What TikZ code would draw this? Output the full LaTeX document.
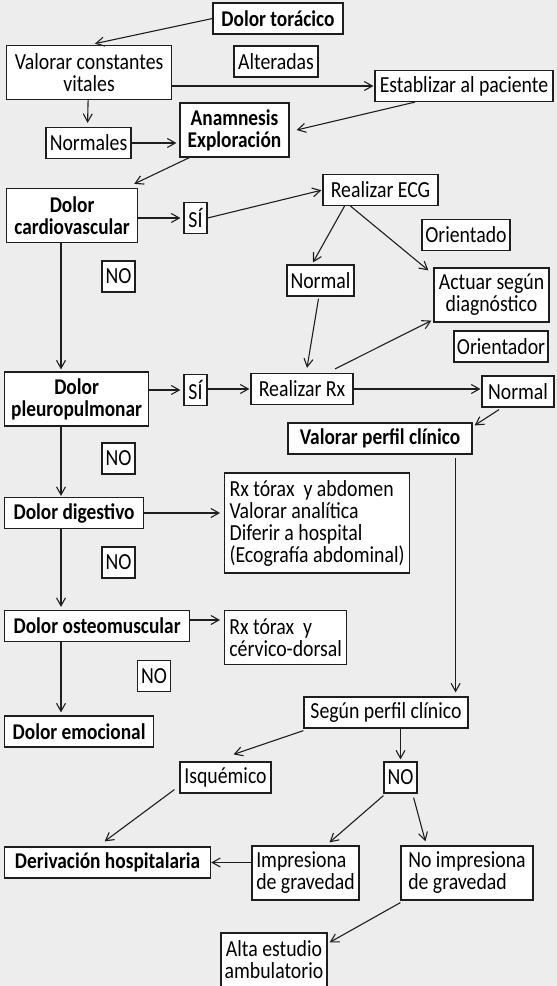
\documentclass[tikz,border=0pt]{standalone}
\usepackage{fontspec}
\setmainfont{Carlito}[FakeStretch=0.86]
\usetikzlibrary{arrows.meta}
\definecolor{fondo}{HTML}{EDEDED}
\definecolor{trazo}{HTML}{1E1E1E}

\tikzset{
  caja/.style={draw=trazo, line width=1.2pt, fill=white, inner xsep=3pt, inner ysep=1pt, minimum height=31pt, align=center},
  doble/.style={caja, minimum height=54pt},
  fuerte/.style={font=\fontsize{22.5}{22}\selectfont\bfseries},
  flecha/.style={draw=trazo, line width=1.1pt, -{Straight Barb[length=8pt,width=9pt]}},
  linea/.style={draw=trazo, line width=1.1pt}
}

\begin{document}
\begin{tikzpicture}[x=1pt, y=-1pt, font=\fontsize{23}{22}\selectfont]

    % Background and page size
    \fill[fondo] (0,0) rectangle (557,986);
    \useasboundingbox (0,0) rectangle (557,986);

    % Column of the left chain
    \coordinate (eje) at (61,0);

    % Top part
    \node[caja, fuerte, minimum width=130pt] (torax) at (278,18.5) {Dolor torácico};
    \node[doble, anchor=west, minimum width=165pt] (valorar) at (6,72.5) {Valorar constantes\\vitales};
    \node[caja, minimum width=84pt] (alteradas) at (276,61.5) {Alteradas};
    \node[caja, minimum width=178pt] (estab) at (464,86) {Establizar al paciente};
    \node[caja, minimum width=85pt] (normales) at (88.5,143) {Normales};
    \node[doble, fuerte, minimum width=109pt] (anam) at (234.5,130) {Anamnesis\\Exploración};

    % Cardiovascular branch
    \node[doble, fuerte, anchor=west, minimum width=131pt] (cardio) at (6,215.5) {Dolor\\cardiovascular};
    \node[caja, inner xsep=2pt, minimum width=23pt] (si1) at (195.5,218) {SÍ};
    \node[caja, inner xsep=2pt, minimum width=33pt] (no1) at (118.5,276.5) {NO};
    \node[caja, minimum width=115pt] (ecg) at (380.5,190) {Realizar ECG};
    \node[caja, minimum width=88pt] (orientado) at (466,235) {Orientado};
    \node[caja, minimum width=67pt] (normal1) at (320.5,280.5) {Normal};
    \node[doble, minimum width=115pt] (actuar) at (491.5,295) {Actuar según\\diagnóstico};
    \node[caja, minimum width=94pt] (orientador) at (501,346.5) {Orientador};

    % Pleuropulmonary branch
    \node[doble, fuerte, anchor=west, minimum width=144pt] (pleuro) at (4,399) {Dolor\\pleuropulmonar};
    \node[caja, inner xsep=2pt, minimum width=23pt] (si2) at (195.5,390) {SÍ};
    \node[caja, minimum width=102pt] (rx) at (302,389) {Realizar Rx};
    \node[caja, minimum width=72pt] (normal2) at (518,391.5) {Normal};
    \node[caja, fuerte, minimum width=184pt] (perfil) at (380,438.5) {Valorar perfil clínico};
    \node[caja, inner xsep=2pt, minimum width=33pt] (no2) at (118.5,458.5) {NO};

    % Digestive and osteomuscular branches
    \node[caja, fuerte, anchor=west, minimum width=139pt] (digest) at (4,513) {Dolor digestivo};
    \node[caja, align=left, anchor=west, minimum height=100pt, minimum width=185pt] (rxabd) at (224,523)
      {Rx tórax~ y abdomen\\Valorar analítica\\Diferir a hospital\\(Ecografía abdominal)};
    \node[caja, inner xsep=2pt, minimum width=33pt] (no3) at (118.5,562.5) {NO};
    \node[caja, fuerte, anchor=west, minimum width=185pt] (osteo) at (4,626) {Dolor osteomuscular};
    \node[doble, align=left, anchor=west, minimum width=122pt] (rxcerv) at (224,637.5) {Rx tórax~ y\\cérvico-dorsal};
    \node[caja, inner xsep=2pt, minimum width=33pt] (no4) at (154,676) {NO};
    \node[caja, fuerte, anchor=west, minimum width=149pt] (emoc) at (4,731.5) {Dolor emocional};

    % Clinical profile
    \node[caja, minimum width=164pt] (segun) at (386,712.5) {Según perfil clínico};
    \node[caja, minimum width=91pt] (isq) at (225.5,777.5) {Isquémico};
    \node[caja, inner xsep=2pt, minimum width=33pt] (no5) at (400.5,777.5) {NO};
    \node[caja, fuerte, anchor=west, minimum width=206pt] (deriv) at (4,862.5) {Derivación hospitalaria};
    \node[doble, align=left, minimum width=107pt] (impres) at (305.5,873) {Impresiona\\de gravedad};
    \node[doble, align=left, minimum width=132pt] (noimp) at (467,873) {No impresiona\\de gravedad};
    \node[doble, minimum width=106pt] (alta) at (274,960) {Alta estudio\\ambulatorio};

    % Connectors, top part
    \draw[flecha, shorten >=6pt] (torax.west) -- (valorar.north);
    \draw[flecha, shorten >=4pt] ([xshift=-1pt]valorar.south) -- ([xshift=-1pt]normales.north);
    \draw[flecha, shorten >=1pt] (valorar.east |- estab.west) -- (estab.west);
    \draw[flecha] ([xshift=-49pt]estab.south) -- ([xshift=7pt]anam.east);
    \draw[flecha, shorten >=3pt] (normales.east) -- (normales.east -| anam.west);
    \draw[flecha] ([xshift=10pt]anam.south west) -- ([xshift=-4pt,yshift=4pt]cardio.north east);

    % Connectors, cardiovascular
    \draw[flecha, shorten >=3pt] (cardio.east |- si1.west) -- (si1.west);
    \draw[flecha, shorten >=1pt] (si1.east) -- (ecg.west);
    \draw[flecha] ([xshift=-36pt]ecg.south) -- ([xshift=-7.5pt,yshift=2pt]normal1.north);
    \draw[flecha] ([xshift=-30pt]ecg.south) -- ([xshift=-5pt,yshift=-3pt]actuar.north west);
    \draw[flecha] ([xshift=-2pt,yshift=-2pt]normal1.south) -- ([xshift=5pt,yshift=5pt]rx.north);
    \draw[flecha] ([xshift=33pt,yshift=4pt]rx.north) -- ([xshift=-2pt,yshift=2pt]actuar.south west);
    \draw[flecha, shorten >=2pt] (cardio.south -| eje) -- (pleuro.north -| eje);

    % Connectors, pleuropulmonary
    \draw[flecha, shorten >=3pt] (pleuro.east |- si2.west) -- (si2.west);
    \draw[flecha, shorten >=1pt] (si2.east |- rx.west) -- (rx.west);
    \draw[flecha, shorten >=1pt] (rx.east) -- (normal2.west |- rx.east);
    \draw[flecha] ([xshift=-19pt,yshift=-2pt]normal2.south) -- ([xshift=2pt,yshift=-3pt]perfil.north east);
    \draw[flecha, shorten >=1pt] (pleuro.south -| eje) -- (digest.north -| eje);

    % Connectors, digestive and osteomuscular
    \draw[flecha, shorten >=4pt] (digest.east) -- (rxabd.west |- digest.east);
    \draw[flecha, shorten >=3pt] (digest.south -| eje) -- (osteo.north -| eje);
    \draw[flecha, shorten >=4pt] ([yshift=6pt]osteo.east) -- ([yshift=6pt]osteo.east -| rxcerv.west);
    \draw[flecha, shorten >=3pt] (osteo.south -| eje) -- (emoc.north -| eje);

    % Connectors, clinical profile
    \draw[flecha, shorten >=4pt] ([xshift=-17pt,yshift=-3pt]perfil.south east) -- ([xshift=-17pt]perfil.south east |- segun.north);
    \draw[flecha] ([yshift=-2pt]segun.south west) -- ([xshift=8pt,yshift=7pt]isq.north);
    \draw[flecha, shorten >=2pt] (no5.north |- segun.south) -- (no5.north);
    \draw[flecha] ([xshift=-5pt,yshift=4pt]isq.south west) -- ([xshift=-3pt,yshift=5pt]deriv.north);
    \draw[flecha] (impres.west |- deriv.east) -- (deriv.east);
    \draw[flecha] ([yshift=-2pt]no5.south west) -- ([xshift=24pt,yshift=3pt]impres.north);
    \draw[flecha] ([xshift=-4pt,yshift=-4pt]no5.south east) -- ([xshift=25pt,yshift=4pt]noimp.north west);
    \draw[flecha] ([yshift=-2pt]noimp.south west) -- ([xshift=2pt,yshift=-10pt]alta.north east);

\end{tikzpicture}
\end{document}
